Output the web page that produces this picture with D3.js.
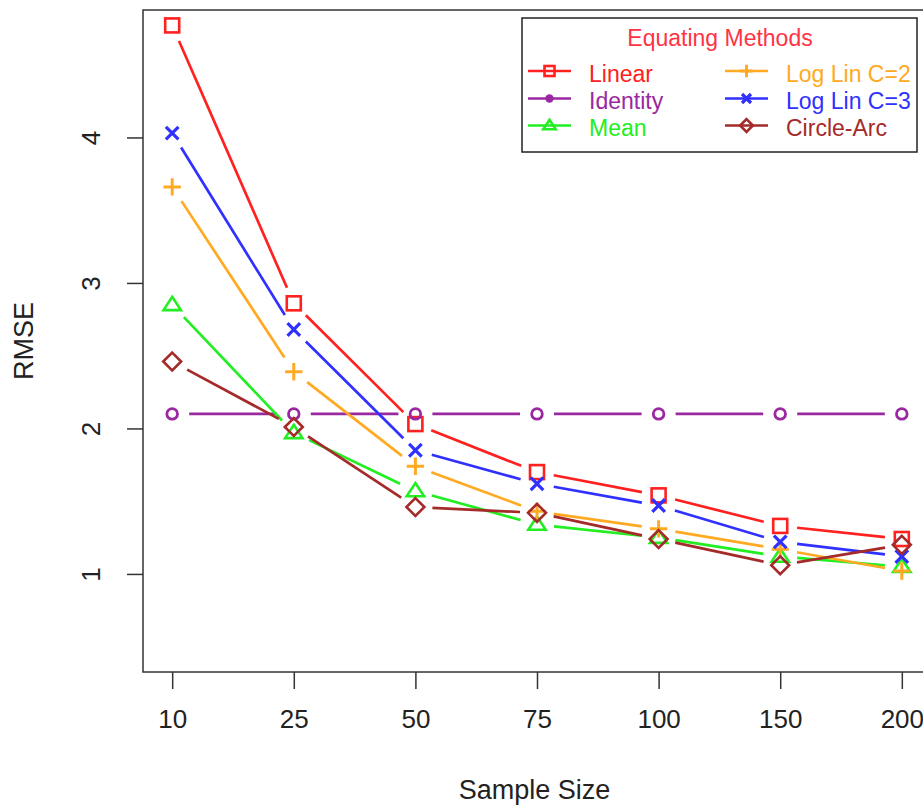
<!DOCTYPE html>
<html>
<head>
<meta charset="utf-8">
<script src="https://cdn.jsdelivr.net/npm/d3@7"></script>
<style>
  body { margin: 0; background: #fff; }
  svg { display: block; font-family: "Liberation Sans", Arial, sans-serif; }
</style>
</head>
<body>
<svg id="canvas" width="923" height="806"></svg>
<script>
const sampleSizes = ["10", "25", "50", "75", "100", "150", "200"];
const yTicks = [1, 2, 3, 4];

const linear    = [4.77, 2.86, 2.03, 1.70, 1.54, 1.33, 1.24];
const identity  = [2.10, 2.10, 2.10, 2.10, 2.10, 2.10, 2.10];
const mean      = [2.85, 1.97, 1.57, 1.34, 1.25, 1.12, 1.05];
const logLinC2  = [3.66, 2.39, 1.74, 1.43, 1.31, 1.17, 1.02];
const logLinC3  = [4.03, 2.68, 1.85, 1.62, 1.47, 1.22, 1.12];
const circleArc = [2.46, 2.01, 1.46, 1.42, 1.24, 1.06, 1.20];

const seriesNames = ["Linear", "Identity", "Mean", "Log Lin C=2", "Log Lin C=3", "Circle-Arc"];
const seriesValues = [linear, identity, mean, logLinC2, logLinC3, circleArc];
const seriesColors = ["#ff2020", "#9a28a0", "#22ee22", "#ffaa22", "#3030ff", "#a52a2a"];
const seriesShapes = ["square", "circle", "triangle", "plus", "cross", "diamond"];

const svg = d3.select("#canvas");
const plot = { left: 143, top: 10, right: 931, bottom: 672 };

const x = d3.scalePoint()
  .domain(sampleSizes)
  .range([plot.left, plot.right])
  .padding(0.24);

const y = d3.scaleLinear()
  .domain([0.326, 4.876])
  .range([plot.bottom, plot.top]);

// draw one marker shape centred at 0,0
function drawShape(g, shape, color, size) {
  const s = size;
  if (shape === "square") {
    g.append("rect").attr("x", -s * 0.5).attr("y", -s * 0.5)
      .attr("width", s).attr("height", s)
      .attr("fill", "none").attr("stroke", color).attr("stroke-width", 2.6);
  } else if (shape === "circle") {
    g.append("circle").attr("r", s * 0.38)
      .attr("fill", "none").attr("stroke", color).attr("stroke-width", 2.8);
  } else if (shape === "filledCircle") {
    g.append("circle").attr("r", s * 0.42).attr("fill", color);
  } else if (shape === "triangle") {
    const h = s * 0.95;
    g.append("path")
      .attr("d", `M0 ${-h * 0.6} L${s * 0.62} ${h * 0.4} L${-s * 0.62} ${h * 0.4} Z`)
      .attr("fill", "none").attr("stroke", color).attr("stroke-width", 2.6);
  } else if (shape === "plus") {
    const a = s * 0.62;
    g.append("path").attr("d", `M${-a} 0 H${a} M0 ${-a} V${a}`)
      .attr("stroke", color).attr("stroke-width", 3);
  } else if (shape === "cross") {
    const a = s * 0.45;
    g.append("path").attr("d", `M${-a} ${-a} L${a} ${a} M${-a} ${a} L${a} ${-a}`)
      .attr("stroke", color).attr("stroke-width", 3.2);
  } else if (shape === "diamond") {
    const a = s * 0.64;
    g.append("path").attr("d", `M0 ${-a} L${a} 0 L0 ${a} L${-a} 0 Z`)
      .attr("fill", "none").attr("stroke", color).attr("stroke-width", 2.6);
  }
}

// series: lines with gaps round the points (like R type="b")
const gap = 17;
seriesValues.forEach((vals, si) => {
  const pts = vals.map((v, i) => [x(sampleSizes[i]), y(v)]);
  const segs = [];
  for (let i = 0; i < pts.length - 1; i++) {
    const [x1, y1] = pts[i];
    const [x2, y2] = pts[i + 1];
    const len = Math.hypot(x2 - x1, y2 - y1);
    if (len <= gap * 2) continue;
    const ux = (x2 - x1) / len, uy = (y2 - y1) / len;
    segs.push([[x1 + ux * gap, y1 + uy * gap], [x2 - ux * gap, y2 - uy * gap]]);
  }
  svg.append("g").selectAll("line").data(segs).enter().append("line")
    .attr("x1", d => d[0][0]).attr("y1", d => d[0][1])
    .attr("x2", d => d[1][0]).attr("y2", d => d[1][1])
    .attr("stroke", seriesColors[si]).attr("stroke-width", 2.7);

  svg.append("g").selectAll("g").data(pts).enter().append("g")
    .attr("transform", d => `translate(${d[0]},${d[1]})`)
    .each(function () {
      drawShape(d3.select(this), seriesShapes[si], seriesColors[si], 14);
    });
});

// frame
svg.append("rect")
  .attr("x", plot.left).attr("y", plot.top)
  .attr("width", plot.right - plot.left).attr("height", plot.bottom - plot.top)
  .attr("fill", "none").attr("stroke", "#333").attr("stroke-width", 1.5);

// axes
const xAxis = svg.append("g")
  .attr("transform", `translate(0,${plot.bottom})`)
  .call(d3.axisBottom(x).tickSize(17).tickPadding(21));
xAxis.select(".domain").remove();
xAxis.selectAll("line").attr("stroke", "#333").attr("stroke-width", 1.5);
xAxis.selectAll("text").attr("font-size", 26).attr("fill", "#222")
  .attr("font-family", "Liberation Sans, Arial, sans-serif");

const yAxis = svg.append("g")
  .attr("transform", `translate(${plot.left},0)`)
  .call(d3.axisLeft(y).tickValues(yTicks).tickFormat(d3.format("d")).tickSize(16));
yAxis.select(".domain").remove();
yAxis.selectAll("line").attr("stroke", "#333").attr("stroke-width", 1.5);
yAxis.selectAll("text")
  .attr("font-size", 26).attr("fill", "#222")
  .attr("font-family", "Liberation Sans, Arial, sans-serif")
  .attr("text-anchor", "middle")
  .attr("x", 0).attr("dy", 0)
  .attr("y", -43)
  .attr("transform", "rotate(-90)");

// axis titles
svg.append("text")
  .attr("x", (plot.left + 902) / 2 + 12).attr("y", 799)
  .attr("text-anchor", "middle").attr("font-size", 27).attr("fill", "#222")
  .text("Sample Size");

svg.append("text")
  .attr("transform", `translate(33,${(plot.top + plot.bottom) / 2}) rotate(-90)`)
  .attr("text-anchor", "middle").attr("font-size", 27).attr("fill", "#222")
  .text("RMSE");

// legend
const legend = svg.append("g");
legend.append("rect")
  .attr("x", 522).attr("y", 18).attr("width", 395).attr("height", 134)
  .attr("fill", "#fff").attr("stroke", "#222").attr("stroke-width", 1.5);
legend.append("text")
  .attr("x", 720).attr("y", 46).attr("text-anchor", "middle")
  .attr("font-size", 23).attr("fill", "#ff3344")
  .text("Equating Methods");

const legendCols = [528, 725];
const legendRows = [71, 98.5, 125.5];
const legendShapes = ["square", "filledCircle", "triangle", "plus", "cross", "diamond"];
seriesNames.forEach((name, i) => {
  const cx = legendCols[Math.floor(i / 3)];
  const cy = legendRows[i % 3];
  const item = legend.append("g").attr("transform", `translate(${cx},${cy})`);
  item.append("line").attr("x1", 0).attr("x2", 43)
    .attr("stroke", seriesColors[i]).attr("stroke-width", 2.7);
  drawShape(item.append("g").attr("transform", "translate(21.5,0)"),
    legendShapes[i], seriesColors[i], 10);
  item.append("text").attr("x", 61).attr("y", 10.5)
    .attr("font-size", 23).attr("fill", seriesColors[i])
    .text(name);
});
</script>
</body>
</html>
